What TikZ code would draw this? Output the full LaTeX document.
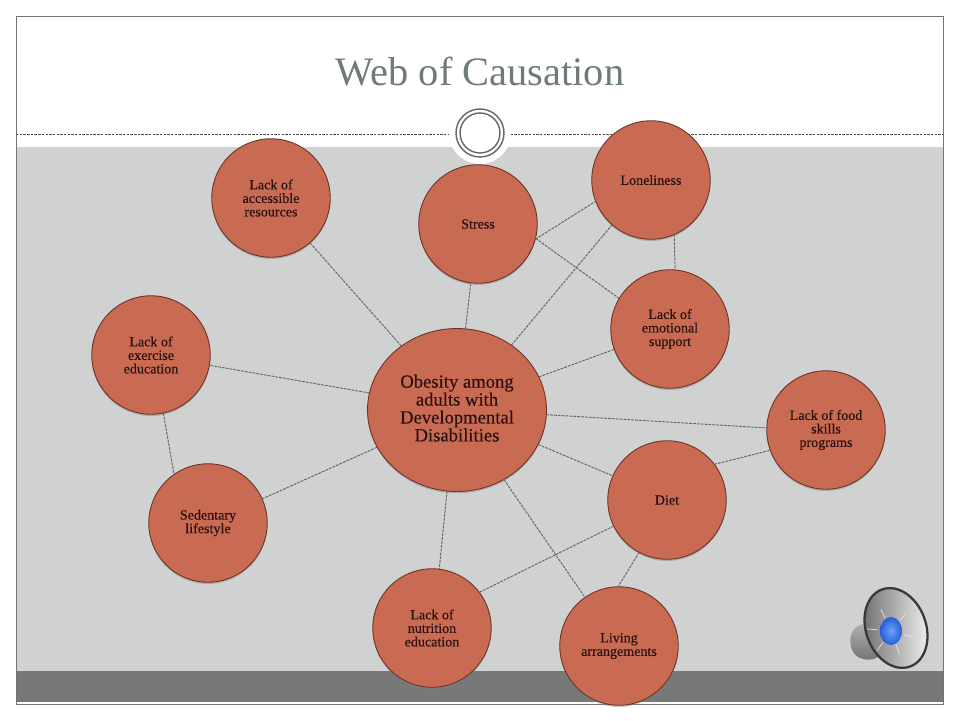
\documentclass[tikz,border=0pt]{standalone}
\usepackage{fontspec}
\setmainfont{Liberation Serif}
\newfontfamily\causefont[FakeBold=0.25]{Liberation Serif}
\usetikzlibrary{shadows,shapes.geometric}
\definecolor{causefill}{HTML}{C96A52}
\definecolor{causeedge}{HTML}{6E3328}
\definecolor{causetext}{HTML}{2A1210}
\definecolor{panelgray}{HTML}{D0D1D1}
\definecolor{bandgray}{HTML}{777878}
\definecolor{titlegray}{HTML}{6E7A7B}
\definecolor{domelight}{HTML}{6FA0F5}
\definecolor{domedark}{HTML}{2A5FD8}
\tikzset{
    cause/.style={
        circle,
        draw=causeedge,
        fill=causefill,
        line width=0.5pt,
        minimum size=2.37cm,
        inner sep=0pt,
        outer sep=0pt,
        align=center,
        text=causetext,
        font=\causefont\fontsize{8}{7.7}\selectfont,
        drop shadow={shadow xshift=0pt, shadow yshift=-1pt, opacity=0.45}
    },
    main cause/.style={
        cause,
        ellipse,
        minimum width=3.58cm,
        minimum height=3.26cm,
        font=\causefont\fontsize{10.6}{10.2}\selectfont
    },
    web link/.style={
        draw=black!60,
        line width=0.55pt,
        dash pattern=on 1.6pt off 0.6pt
    }
}
\begin{document}
\begin{tikzpicture}[x=0.02cm, y=-0.02cm]
    \useasboundingbox (0, 0) rectangle (960, 720);
    \fill[white] (0, 0) rectangle (960, 720);

    % slide
    \fill[panelgray] (16, 147) rectangle (943, 671);
    \fill[bandgray] (16, 671) rectangle (943, 702);
    \draw[black!55, line width=0.5pt] (16, 704) -- (16, 16) -- (943, 16) -- (943, 704) -- cycle;
    \draw[black!70, line width=0.45pt, dash pattern=on 1.4pt off 0.7pt] (16, 134) -- (943, 134);
    \fill[white] (480, 133) circle (31);
    \draw[black!60, line width=0.8pt] (480, 133) circle (24);
    \draw[black!60, line width=0.8pt] (480, 133) circle (20);
    \node[text=titlegray, font=\fontsize{23}{26}\selectfont] (title) at (480, 72) {Web of Causation};

    \node[main cause] (obesity) at (457, 410) {Obesity among\\adults with\\Developmental\\Disabilities\\[-8pt]};
    \node[cause] (loneliness) at (651, 180) {Loneliness};
    \node[cause] (stress) at (478, 224) {Stress};
    \node[cause] (resources) at (271, 198) {Lack of\\accessible\\resources};
    \node[cause] (support) at (670, 329) {Lack of\\emotional\\support};
    \node[cause] (exercise) at (151, 355) {Lack of\\exercise\\education};
    \node[cause] (food) at (826, 430) {Lack of food\\skills\\programs};
    \node[cause] (diet) at (667, 500) {Diet};
    \node[cause] (sedentary) at (208, 523) {Sedentary\\lifestyle};
    \node[cause] (nutrition) at (432, 628) {Lack of\\nutrition\\education};
    \node[cause] (living) at (619, 646) {Living\\arrangements};

    \foreach \from/\to in {
        obesity.131/resources.-49,
        obesity.84/stress.-97,
        obesity.50/loneliness.229,
        obesity.22/support.200,
        obesity.-3/food.178,
        obesity.-23/diet.156,
        obesity.-56/living.125,
        obesity.263/nutrition.83,
        obesity.205/sedentary.24,
        obesity.169/exercise.-10,
        stress.-15/loneliness.201,
        stress.-14/support.149,
        loneliness.-67/support.85,
        exercise.-78/sedentary.125,
        diet.37/food.200,
        diet.206/nutrition.37,
        diet.242/living.91}
        \draw[web link] (\from) -- (\to);

    % speaker icon
    \shade[rounded corners=4pt, top color=black!30, middle color=black!10, bottom color=black!55]
        (866, 622) -- (853, 628) -- (849, 642) -- (855, 657) -- (872, 661) -- (888, 650) -- cycle;
    \draw[rotate around={20:(896, 628)}, draw=black!78, line width=1.3pt, left color=black!58, right color=black!4]
        (896, 628) ellipse [x radius=30, y radius=41];
    \foreach \spoke in {15, 70, 125, 185, 245, 310}
        \draw[black!8, line width=0.35pt, shift={(891, 631)}] (\spoke:14) -- (\spoke:24);
    \shade[inner color=domelight, outer color=domedark] (891, 631) ellipse [x radius=11, y radius=14];
\end{tikzpicture}
\end{document}
